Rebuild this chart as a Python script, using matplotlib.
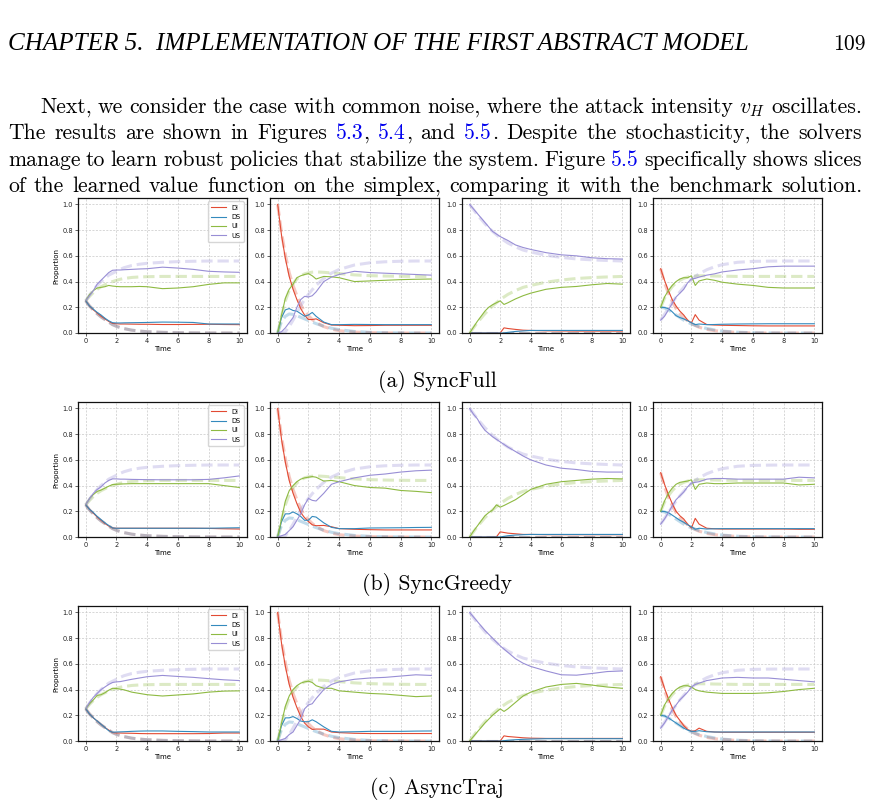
import matplotlib
matplotlib.use("Agg")
import matplotlib.pyplot as plt
from matplotlib.ticker import FormatStrFormatter

plt.rcParams['mathtext.fontset'] = 'cm'

# ---------------- data ----------------
time = [0, 0.25, 0.5, 0.75, 1, 1.25, 1.5, 1.75, 2, 2.25, 2.5, 3, 3.5, 4, 5, 6, 7, 8, 9, 10]
states = ["DI", "DS", "UI", "US"]
colors = ["#E24A33", "#348ABD", "#8EBA42", "#988ED5"]
xticks = [0, 2, 4, 6, 8, 10]
yticks = [0.0, 0.2, 0.4, 0.6, 0.8, 1.0]
captions = ["(a) SyncFull", "(b) SyncGreedy", "(c) AsyncTraj"]

# benchmark (dashed) solutions, one per initial condition
bench1_di = [0.25, 0.21, 0.18, 0.15, 0.125, 0.105, 0.085, 0.065, 0.052, 0.042, 0.034, 0.022, 0.015, 0.01, 0.005, 0.002, 0.001, 0, 0, 0]
bench1_ds = [0.25, 0.21, 0.18, 0.15, 0.125, 0.105, 0.085, 0.065, 0.052, 0.042, 0.034, 0.022, 0.015, 0.01, 0.005, 0.002, 0.001, 0, 0, 0]
bench1_ui = [0.25, 0.285, 0.315, 0.34, 0.36, 0.375, 0.39, 0.40, 0.41, 0.418, 0.424, 0.432, 0.436, 0.438, 0.44, 0.44, 0.44, 0.44, 0.44, 0.44]
bench1_us = [0.25, 0.295, 0.335, 0.37, 0.40, 0.425, 0.45, 0.465, 0.48, 0.495, 0.508, 0.525, 0.535, 0.542, 0.55, 0.555, 0.558, 0.56, 0.56, 0.56]

bench2_di = [1.0, 0.78, 0.61, 0.47, 0.37, 0.29, 0.22, 0.17, 0.135, 0.105, 0.082, 0.05, 0.03, 0.018, 0.007, 0.003, 0.001, 0, 0, 0]
bench2_ds = [0, 0.09, 0.13, 0.148, 0.145, 0.135, 0.122, 0.11, 0.097, 0.085, 0.073, 0.053, 0.037, 0.026, 0.012, 0.005, 0.002, 0.001, 0, 0]
bench2_ui = [0, 0.13, 0.25, 0.33, 0.385, 0.42, 0.445, 0.46, 0.468, 0.473, 0.475, 0.472, 0.467, 0.462, 0.452, 0.446, 0.443, 0.441, 0.44, 0.44]
bench2_us = [0, 0.0, 0.01, 0.05, 0.10, 0.155, 0.213, 0.26, 0.30, 0.337, 0.37, 0.425, 0.466, 0.494, 0.529, 0.546, 0.554, 0.558, 0.56, 0.56]

bench3_di = [0, 0, 0, 0, 0, 0, 0, 0, 0, 0, 0, 0, 0, 0, 0, 0, 0, 0, 0, 0]
bench3_ds = [0, 0, 0, 0, 0, 0, 0, 0, 0, 0, 0, 0, 0, 0, 0, 0, 0, 0, 0, 0]
bench3_ui = [0, 0.04, 0.08, 0.115, 0.15, 0.18, 0.21, 0.235, 0.26, 0.28, 0.30, 0.33, 0.355, 0.37, 0.395, 0.412, 0.424, 0.431, 0.436, 0.44]
bench3_us = [1.0, 0.96, 0.92, 0.885, 0.85, 0.82, 0.79, 0.765, 0.74, 0.72, 0.70, 0.67, 0.645, 0.63, 0.605, 0.588, 0.576, 0.569, 0.564, 0.56]

bench4_di = [0.5, 0.39, 0.31, 0.245, 0.19, 0.15, 0.12, 0.095, 0.075, 0.058, 0.045, 0.028, 0.018, 0.012, 0.004, 0.001, 0, 0, 0, 0]
bench4_ds = [0.2, 0.195, 0.18, 0.16, 0.14, 0.12, 0.10, 0.085, 0.07, 0.06, 0.05, 0.035, 0.024, 0.015, 0.006, 0.002, 0.001, 0, 0, 0]
bench4_ui = [0.2, 0.27, 0.32, 0.36, 0.39, 0.41, 0.425, 0.435, 0.44, 0.443, 0.445, 0.445, 0.443, 0.442, 0.44, 0.44, 0.44, 0.44, 0.44, 0.44]
bench4_us = [0.1, 0.145, 0.19, 0.235, 0.28, 0.32, 0.355, 0.39, 0.415, 0.44, 0.46, 0.492, 0.515, 0.531, 0.55, 0.557, 0.559, 0.56, 0.56, 0.56]

# (a) SyncFull
syncfull1_di = [0.25, 0.21, 0.18, 0.155, 0.13, 0.11, 0.09, 0.075, 0.072, 0.07, 0.07, 0.069, 0.068, 0.068, 0.066, 0.066, 0.067, 0.068, 0.066, 0.065]
syncfull1_ds = [0.25, 0.21, 0.185, 0.16, 0.14, 0.115, 0.095, 0.08, 0.078, 0.078, 0.079, 0.08, 0.081, 0.082, 0.085, 0.084, 0.082, 0.07, 0.07, 0.07]
syncfull1_ui = [0.25, 0.30, 0.33, 0.35, 0.355, 0.36, 0.37, 0.365, 0.362, 0.36, 0.36, 0.36, 0.362, 0.36, 0.345, 0.35, 0.36, 0.378, 0.39, 0.39]
syncfull1_us = [0.25, 0.29, 0.33, 0.38, 0.41, 0.44, 0.47, 0.488, 0.49, 0.49, 0.492, 0.495, 0.498, 0.50, 0.512, 0.505, 0.495, 0.48, 0.475, 0.472]

syncfull2_di = [1.0, 0.76, 0.58, 0.44, 0.34, 0.26, 0.19, 0.14, 0.105, 0.105, 0.11, 0.08, 0.062, 0.06, 0.057, 0.058, 0.06, 0.06, 0.06, 0.06]
syncfull2_ds = [0, 0.12, 0.18, 0.19, 0.175, 0.17, 0.15, 0.13, 0.14, 0.16, 0.13, 0.085, 0.065, 0.065, 0.067, 0.066, 0.065, 0.065, 0.065, 0.065]
syncfull2_ui = [0, 0.14, 0.27, 0.34, 0.38, 0.43, 0.445, 0.455, 0.462, 0.445, 0.42, 0.44, 0.437, 0.43, 0.40, 0.405, 0.41, 0.415, 0.418, 0.42]
syncfull2_us = [0, 0.01, 0.04, 0.08, 0.12, 0.2, 0.26, 0.285, 0.28, 0.29, 0.32, 0.40, 0.435, 0.455, 0.48, 0.47, 0.465, 0.46, 0.455, 0.45]

syncfull3_di = [0, 0, 0, 0, 0, 0, 0, 0, 0, 0.04, 0.035, 0.028, 0.022, 0.02, 0.017, 0.016, 0.015, 0.015, 0.015, 0.015]
syncfull3_ds = [0, 0, 0, 0, 0, 0, 0, 0, 0, 0, 0.005, 0.012, 0.016, 0.02, 0.02, 0.02, 0.02, 0.02, 0.02, 0.02]
syncfull3_ui = [0, 0.045, 0.09, 0.13, 0.17, 0.2, 0.22, 0.235, 0.25, 0.222, 0.235, 0.265, 0.29, 0.31, 0.34, 0.355, 0.362, 0.375, 0.385, 0.38]
syncfull3_us = [1.0, 0.965, 0.93, 0.895, 0.86, 0.825, 0.79, 0.77, 0.75, 0.735, 0.72, 0.685, 0.665, 0.65, 0.625, 0.608, 0.60, 0.585, 0.578, 0.575]

syncfull4_di = [0.5, 0.41, 0.33, 0.26, 0.21, 0.17, 0.14, 0.10, 0.078, 0.143, 0.10, 0.066, 0.062, 0.06, 0.058, 0.056, 0.055, 0.055, 0.055, 0.055]
syncfull4_ds = [0.2, 0.198, 0.19, 0.165, 0.135, 0.12, 0.11, 0.095, 0.08, 0.065, 0.07, 0.065, 0.066, 0.068, 0.07, 0.071, 0.072, 0.072, 0.072, 0.072]
syncfull4_ui = [0.2, 0.28, 0.33, 0.37, 0.40, 0.42, 0.43, 0.43, 0.445, 0.37, 0.405, 0.42, 0.41, 0.395, 0.38, 0.37, 0.355, 0.35, 0.35, 0.35]
syncfull4_us = [0.1, 0.13, 0.18, 0.23, 0.28, 0.31, 0.34, 0.39, 0.42, 0.425, 0.435, 0.45, 0.46, 0.475, 0.49, 0.50, 0.515, 0.52, 0.52, 0.52]

# (b) SyncGreedy
syncgreedy1_di = [0.25, 0.215, 0.185, 0.155, 0.13, 0.105, 0.085, 0.07, 0.068, 0.068, 0.068, 0.068, 0.068, 0.068, 0.068, 0.068, 0.068, 0.067, 0.064, 0.062]
syncgreedy1_ds = [0.25, 0.215, 0.19, 0.16, 0.135, 0.11, 0.09, 0.07, 0.068, 0.068, 0.068, 0.068, 0.068, 0.068, 0.068, 0.068, 0.068, 0.068, 0.07, 0.072]
syncgreedy1_ui = [0.25, 0.30, 0.33, 0.355, 0.365, 0.38, 0.395, 0.408, 0.41, 0.412, 0.413, 0.415, 0.415, 0.415, 0.415, 0.415, 0.415, 0.415, 0.40, 0.385]
syncgreedy1_us = [0.25, 0.30, 0.34, 0.37, 0.39, 0.42, 0.44, 0.452, 0.452, 0.45, 0.45, 0.448, 0.447, 0.446, 0.445, 0.445, 0.445, 0.448, 0.46, 0.475]

syncgreedy2_di = [1.0, 0.76, 0.58, 0.44, 0.34, 0.26, 0.19, 0.15, 0.12, 0.095, 0.088, 0.09, 0.08, 0.065, 0.06, 0.057, 0.055, 0.055, 0.055, 0.055]
syncgreedy2_ds = [0, 0.12, 0.18, 0.18, 0.195, 0.18, 0.16, 0.13, 0.13, 0.16, 0.155, 0.11, 0.075, 0.065, 0.065, 0.07, 0.071, 0.072, 0.074, 0.075]
syncgreedy2_ui = [0, 0.14, 0.28, 0.36, 0.40, 0.43, 0.45, 0.46, 0.465, 0.47, 0.465, 0.435, 0.44, 0.43, 0.40, 0.385, 0.38, 0.362, 0.355, 0.345]
syncgreedy2_us = [0, 0.01, 0.02, 0.05, 0.08, 0.13, 0.18, 0.25, 0.30, 0.285, 0.28, 0.34, 0.41, 0.43, 0.46, 0.48, 0.49, 0.505, 0.515, 0.52]

syncgreedy3_di = [0, 0, 0, 0, 0, 0, 0, 0, 0.04, 0.035, 0.03, 0.025, 0.02, 0.02, 0.018, 0.018, 0.018, 0.018, 0.018, 0.018]
syncgreedy3_ds = [0, 0, 0, 0, 0, 0, 0, 0, 0, 0.005, 0.01, 0.015, 0.018, 0.02, 0.02, 0.02, 0.02, 0.02, 0.02, 0.02]
syncgreedy3_ui = [0, 0.045, 0.085, 0.125, 0.165, 0.19, 0.21, 0.25, 0.232, 0.245, 0.26, 0.29, 0.33, 0.37, 0.41, 0.43, 0.44, 0.45, 0.455, 0.452]
syncgreedy3_us = [1.0, 0.955, 0.92, 0.87, 0.83, 0.805, 0.78, 0.76, 0.74, 0.72, 0.70, 0.665, 0.63, 0.60, 0.56, 0.535, 0.525, 0.51, 0.505, 0.505]

syncgreedy4_di = [0.5, 0.41, 0.33, 0.26, 0.20, 0.165, 0.14, 0.10, 0.07, 0.145, 0.10, 0.068, 0.064, 0.062, 0.062, 0.062, 0.062, 0.062, 0.06, 0.06]
syncgreedy4_ds = [0.2, 0.198, 0.19, 0.17, 0.15, 0.13, 0.115, 0.095, 0.08, 0.06, 0.068, 0.062, 0.064, 0.065, 0.065, 0.065, 0.065, 0.065, 0.065, 0.065]
syncgreedy4_ui = [0.2, 0.28, 0.34, 0.38, 0.41, 0.425, 0.43, 0.435, 0.445, 0.37, 0.41, 0.42, 0.415, 0.415, 0.42, 0.42, 0.42, 0.42, 0.405, 0.41]
syncgreedy4_us = [0.1, 0.14, 0.19, 0.24, 0.29, 0.32, 0.35, 0.39, 0.42, 0.425, 0.43, 0.45, 0.455, 0.455, 0.45, 0.45, 0.45, 0.45, 0.465, 0.46]

# (c) AsyncTraj
asynctraj1_di = [0.25, 0.21, 0.18, 0.155, 0.13, 0.105, 0.085, 0.065, 0.063, 0.062, 0.061, 0.06, 0.058, 0.057, 0.057, 0.057, 0.057, 0.058, 0.062, 0.062]
asynctraj1_ds = [0.25, 0.21, 0.18, 0.155, 0.13, 0.105, 0.08, 0.068, 0.07, 0.071, 0.072, 0.075, 0.077, 0.078, 0.078, 0.075, 0.073, 0.07, 0.07, 0.07]
asynctraj1_ui = [0.25, 0.29, 0.32, 0.355, 0.36, 0.375, 0.395, 0.41, 0.408, 0.403, 0.398, 0.38, 0.37, 0.36, 0.35, 0.358, 0.366, 0.38, 0.388, 0.39]
asynctraj1_us = [0.25, 0.30, 0.34, 0.37, 0.40, 0.42, 0.44, 0.455, 0.46, 0.462, 0.468, 0.48, 0.49, 0.50, 0.51, 0.502, 0.495, 0.485, 0.476, 0.47]

asynctraj2_di = [1.0, 0.76, 0.58, 0.44, 0.34, 0.26, 0.19, 0.14, 0.11, 0.09, 0.093, 0.092, 0.07, 0.065, 0.06, 0.058, 0.058, 0.058, 0.058, 0.058]
asynctraj2_ds = [0, 0.12, 0.18, 0.18, 0.19, 0.175, 0.155, 0.15, 0.15, 0.165, 0.15, 0.11, 0.075, 0.07, 0.072, 0.075, 0.075, 0.075, 0.077, 0.078]
asynctraj2_ui = [0, 0.14, 0.27, 0.35, 0.40, 0.43, 0.45, 0.46, 0.465, 0.455, 0.43, 0.41, 0.41, 0.39, 0.38, 0.37, 0.365, 0.355, 0.345, 0.35]
asynctraj2_us = [0, 0.01, 0.02, 0.05, 0.07, 0.12, 0.17, 0.25, 0.28, 0.29, 0.33, 0.40, 0.44, 0.46, 0.48, 0.49, 0.495, 0.505, 0.515, 0.51]

asynctraj3_di = [0, 0, 0, 0, 0, 0, 0, 0, 0, 0.04, 0.035, 0.03, 0.025, 0.022, 0.02, 0.02, 0.02, 0.02, 0.02, 0.02]
asynctraj3_ds = [0, 0, 0, 0, 0, 0, 0, 0, 0, 0.002, 0.006, 0.01, 0.013, 0.015, 0.018, 0.018, 0.018, 0.018, 0.018, 0.018]
asynctraj3_ui = [0, 0.035, 0.07, 0.105, 0.14, 0.17, 0.20, 0.225, 0.25, 0.23, 0.25, 0.30, 0.35, 0.38, 0.42, 0.44, 0.448, 0.435, 0.42, 0.41]
asynctraj3_us = [1.0, 0.965, 0.93, 0.895, 0.86, 0.83, 0.80, 0.77, 0.74, 0.715, 0.69, 0.64, 0.605, 0.58, 0.545, 0.515, 0.512, 0.525, 0.54, 0.545]

asynctraj4_di = [0.5, 0.41, 0.33, 0.26, 0.20, 0.16, 0.12, 0.09, 0.075, 0.08, 0.10, 0.075, 0.07, 0.068, 0.068, 0.068, 0.068, 0.068, 0.068, 0.068]
asynctraj4_ds = [0.2, 0.195, 0.18, 0.16, 0.14, 0.12, 0.10, 0.085, 0.075, 0.075, 0.08, 0.072, 0.07, 0.07, 0.07, 0.07, 0.07, 0.07, 0.07, 0.07]
asynctraj4_ui = [0.2, 0.28, 0.33, 0.37, 0.40, 0.42, 0.43, 0.43, 0.42, 0.40, 0.39, 0.38, 0.375, 0.37, 0.37, 0.37, 0.375, 0.385, 0.40, 0.41]
asynctraj4_us = [0.1, 0.14, 0.19, 0.24, 0.28, 0.32, 0.35, 0.38, 0.42, 0.44, 0.45, 0.47, 0.48, 0.49, 0.495, 0.49, 0.49, 0.48, 0.47, 0.46]

benchmarks = [
    [bench1_di, bench1_ds, bench1_ui, bench1_us],
    [bench2_di, bench2_ds, bench2_ui, bench2_us],
    [bench3_di, bench3_ds, bench3_ui, bench3_us],
    [bench4_di, bench4_ds, bench4_ui, bench4_us],
]
learned = [
    [[syncfull1_di, syncfull1_ds, syncfull1_ui, syncfull1_us],
     [syncfull2_di, syncfull2_ds, syncfull2_ui, syncfull2_us],
     [syncfull3_di, syncfull3_ds, syncfull3_ui, syncfull3_us],
     [syncfull4_di, syncfull4_ds, syncfull4_ui, syncfull4_us]],
    [[syncgreedy1_di, syncgreedy1_ds, syncgreedy1_ui, syncgreedy1_us],
     [syncgreedy2_di, syncgreedy2_ds, syncgreedy2_ui, syncgreedy2_us],
     [syncgreedy3_di, syncgreedy3_ds, syncgreedy3_ui, syncgreedy3_us],
     [syncgreedy4_di, syncgreedy4_ds, syncgreedy4_ui, syncgreedy4_us]],
    [[asynctraj1_di, asynctraj1_ds, asynctraj1_ui, asynctraj1_us],
     [asynctraj2_di, asynctraj2_ds, asynctraj2_ui, asynctraj2_us],
     [asynctraj3_di, asynctraj3_ds, asynctraj3_ui, asynctraj3_us],
     [asynctraj4_di, asynctraj4_ds, asynctraj4_ui, asynctraj4_us]],
]

header_text = "CHAPTER 5.  IMPLEMENTATION OF THE FIRST ABSTRACT MODEL"
page_number = "109"
BLUE = "#0000ee"
paragraph = [
    [[("Next,", "k")], [("we", "k")], [("consider", "k")], [("the", "k")], [("case", "k")], [("with", "k")],
     [("common", "k")], [("noise,", "k")], [("where", "k")], [("the", "k")], [("attack", "k")],
     [("intensity", "k")], [("$v_H$", "k")], [("oscillates.", "k")]],
    [[("The", "k")], [("results", "k")], [("are", "k")], [("shown", "k")], [("in", "k")], [("Figures", "k")],
     [("5.3", BLUE), (",", "k")], [("5.4", BLUE), (",", "k")], [("and", "k")], [("5.5", BLUE), (".", "k")],
     [("Despite", "k")], [("the", "k")], [("stochasticity,", "k")], [("the", "k")], [("solvers", "k")]],
    [[("manage", "k")], [("to", "k")], [("learn", "k")], [("robust", "k")], [("policies", "k")], [("that", "k")],
     [("stabilize", "k")], [("the", "k")], [("system.", "k")], [("Figure", "k")], [("5.5", BLUE)],
     [("specifically", "k")], [("shows", "k")], [("slices", "k")]],
    [[("of", "k")], [("the", "k")], [("learned", "k")], [("value", "k")], [("function", "k")], [("on", "k")],
     [("the", "k")], [("simplex,", "k")], [("comparing", "k")], [("it", "k")], [("with", "k")], [("the", "k")],
     [("benchmark", "k")], [("solution.", "k")]],
]

# ---------------- layout ----------------
W, H = 875, 806
fig = plt.figure(figsize=(W / 100, H / 100), dpi=100)
renderer = fig.canvas.get_renderer()

def fx(x):
    return x / W

def fy(y):
    return 1 - y / H

BODY = "cmr10"

# header
hdr = fig.text(fx(8), fy(50), header_text, family="Liberation Serif", style="italic",
               fontsize=10, va="baseline", ha="left", color="k")
w0 = hdr.get_window_extent(renderer).width
hdr.set_fontsize(10 * 742 / w0)

# paragraph (justified)
line_left = [40, 8, 8, 8]
line_right = 862
baselines = [113, 139, 166, 192]
f0 = 10.0
objs = []
for li, words in enumerate(paragraph):
    lw = []
    for word in words:
        segs = []
        for txt, col in word:
            t = fig.text(0, 0, txt, family=BODY, fontsize=f0, color=col, va="baseline", ha="left")
            segs.append(t)
        lw.append(segs)
    objs.append(lw)

def measure(lineobjs):
    return [[s.get_window_extent(renderer).width for s in segs] for segs in lineobjs]

ratios = []
for li, lineobjs in enumerate(objs):
    ws = measure(lineobjs)
    nat = sum(sum(w) for w in ws) + (len(ws) - 1) * 0.333 * f0 * 100 / 72
    ratios.append((line_right - line_left[li]) / nat)
fsize = f0 * sum(ratios) / len(ratios)

for li, lineobjs in enumerate(objs):
    for segs in lineobjs:
        for s in segs:
            s.set_fontsize(fsize)
    ws = measure(lineobjs)
    total = sum(sum(w) for w in ws)
    gap = (line_right - line_left[li] - total) / (len(ws) - 1)
    x = line_left[li]
    for segs, w in zip(lineobjs, ws):
        xx = x
        for s, sw in zip(segs, w):
            s.set_position((fx(xx), fy(baselines[li])))
            xx += sw
        x += sum(w) + gap

fig.text(fx(866), fy(50), page_number, family=BODY, fontsize=fsize, va="baseline", ha="right")

# subplots
col_lr = [(78, 247), (270, 439), (462, 630), (653, 822)]
row_tb = [(198, 333), (402, 537), (606, 741)]
caption_y = [381, 585, 789]

for r, (top, bot) in enumerate(row_tb):
    for c, (left, right) in enumerate(col_lr):
        ax = fig.add_axes([fx(left), fy(bot), (right - left) / W, (bot - top) / H])
        for k in range(4):
            ax.plot(time, benchmarks[c][k], color=colors[k], lw=2.2, ls="--", alpha=0.3)
        for k in range(4):
            ax.plot(time, learned[r][c][k], color=colors[k], lw=0.8, label=states[k])
        ax.set_xlim(-0.5, 10.5)
        ax.set_ylim(0, 1.05)
        ax.set_xticks(xticks)
        ax.set_yticks(yticks)
        ax.yaxis.set_major_formatter(FormatStrFormatter("%.1f"))
        ax.tick_params(labelsize=4.8, length=2, width=0.5, pad=1.5, colors="#222222")
        ax.grid(True, ls=(0, (3, 2)), lw=0.5, color="#c8c8c8")
        for sp in ax.spines.values():
            sp.set_linewidth(0.9)
            sp.set_color("#111111")
        ax.set_xlabel("Time", fontsize=5, labelpad=1.5)
        if c == 0:
            ax.set_ylabel("Proportion", fontsize=5, labelpad=2)
            ax.legend(loc="upper right", fontsize=4.8, handlelength=2.2, borderpad=0.5,
                      labelspacing=0.5, framealpha=0.8, edgecolor="#cccccc")
    fig.text(fx(437), fy(caption_y[r]), captions[r], family=BODY, fontsize=fsize,
             va="center", ha="center")

fig.savefig("out.png", dpi=100)
